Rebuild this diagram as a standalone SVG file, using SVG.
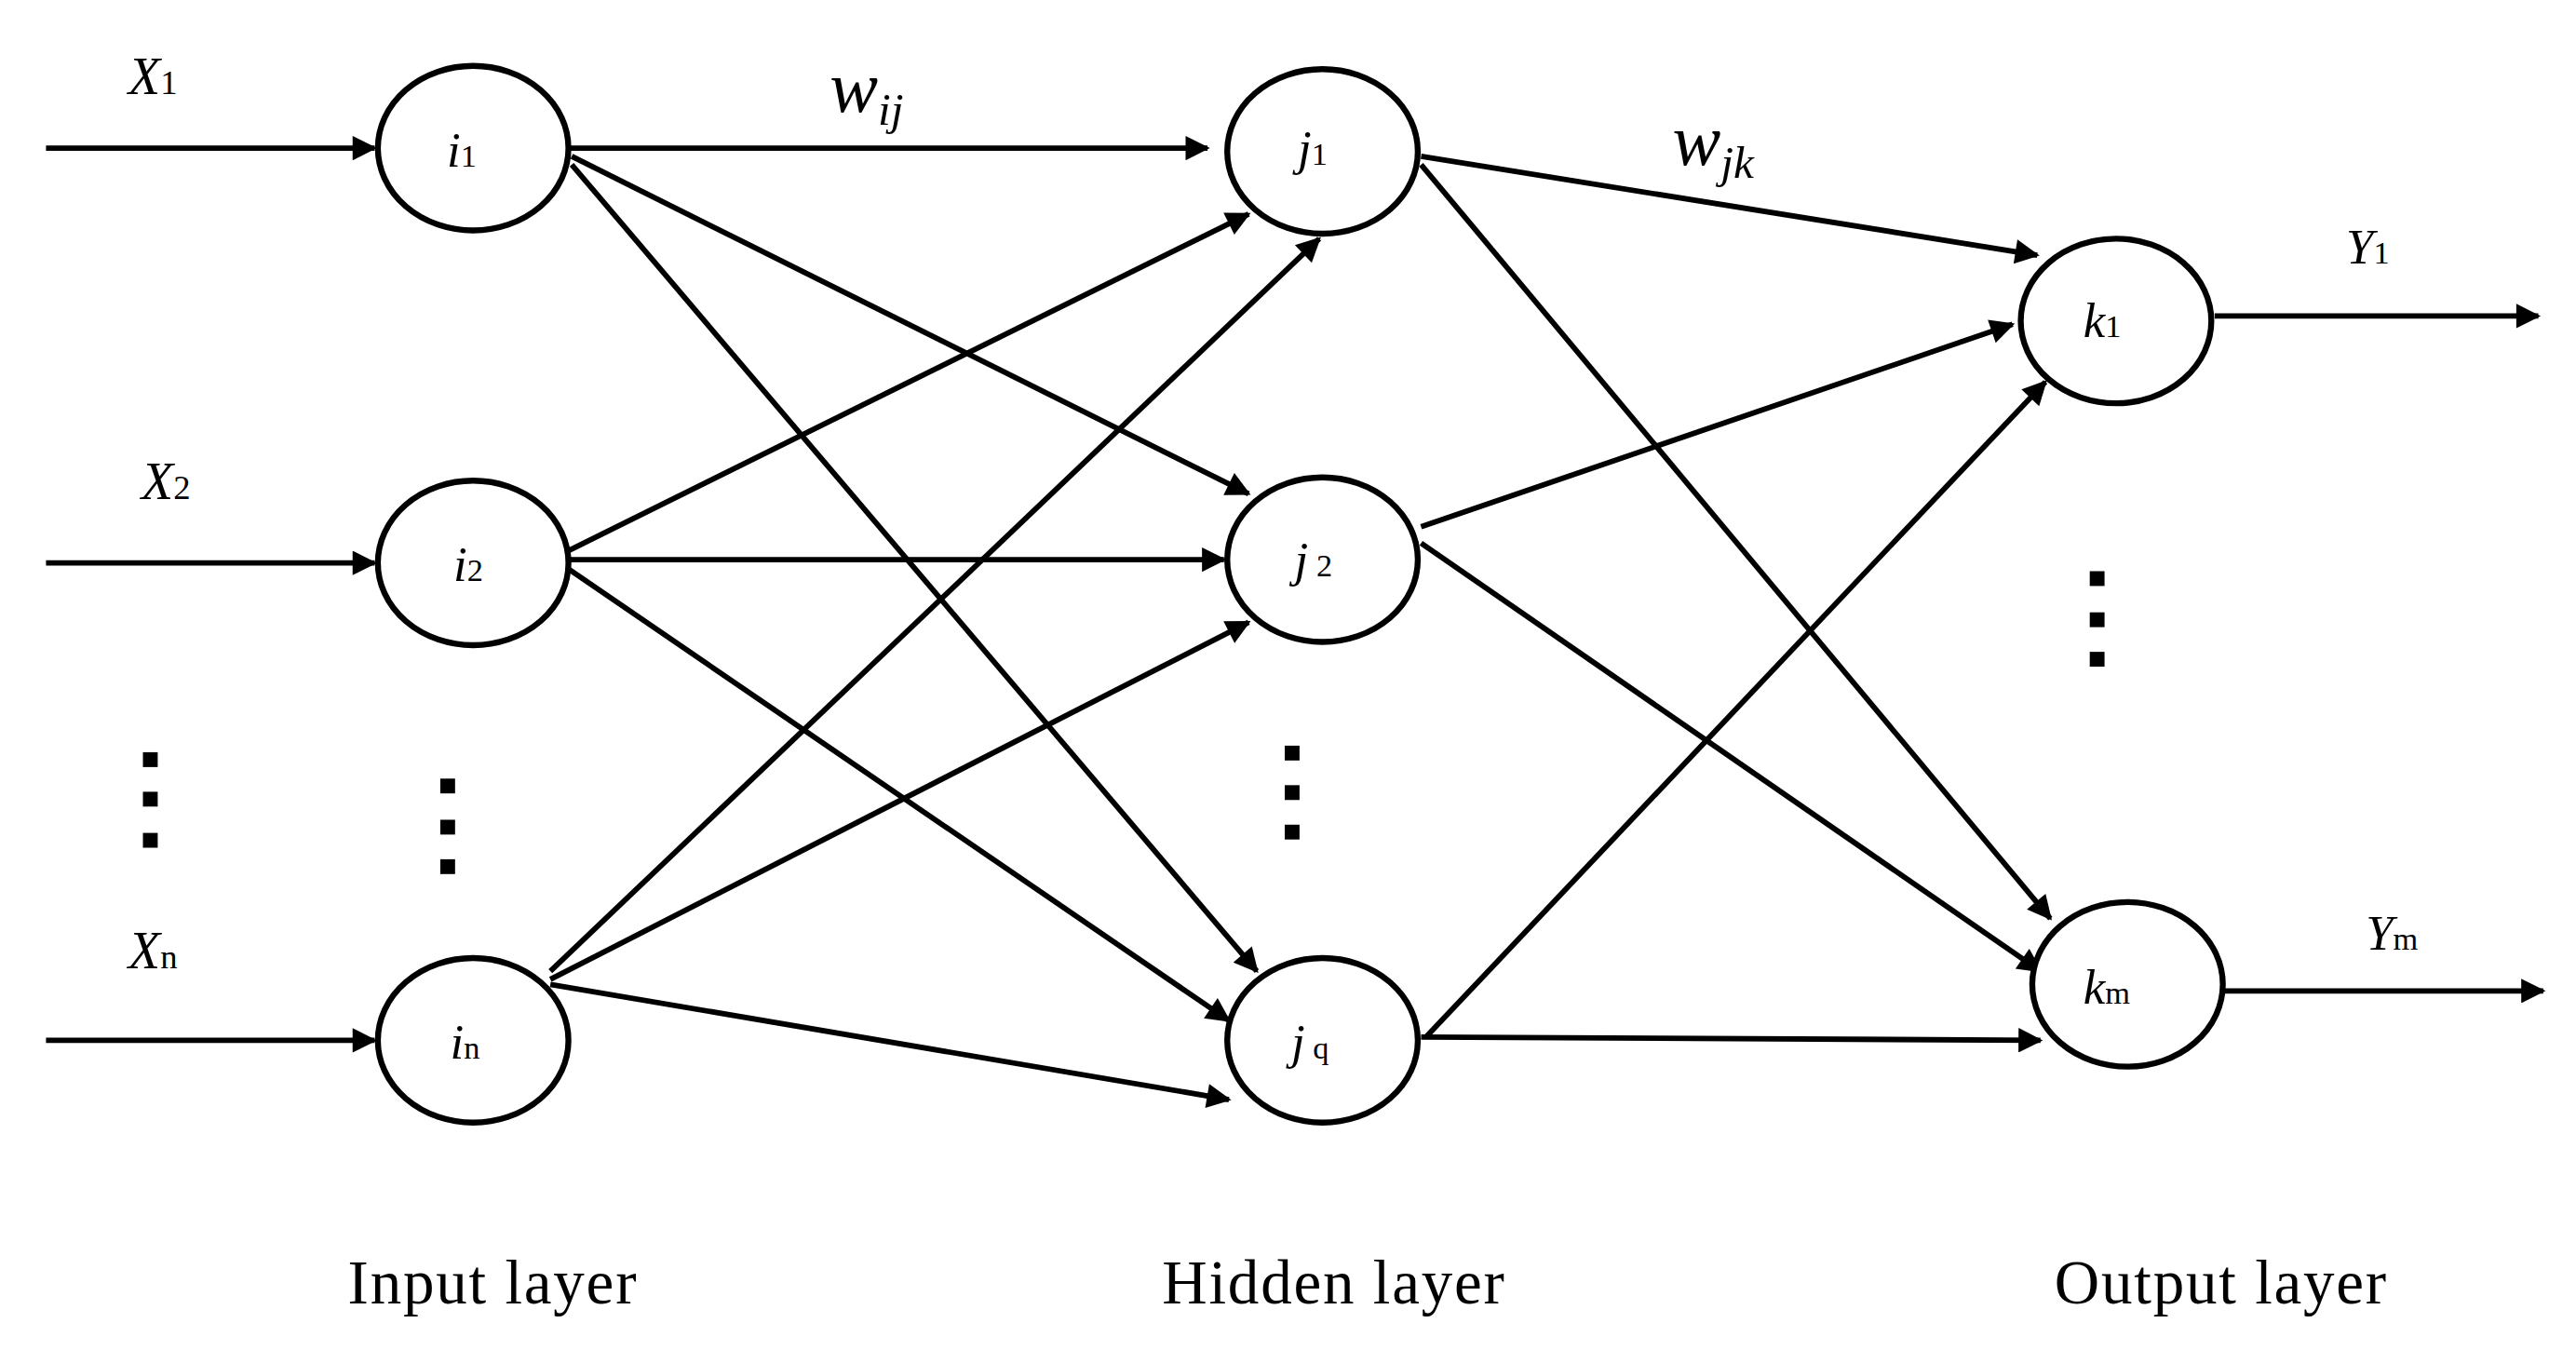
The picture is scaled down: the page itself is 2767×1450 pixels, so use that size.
<svg xmlns="http://www.w3.org/2000/svg" width="2767" height="1450" viewBox="0 0 2767 1450">
<defs>
<marker id="a" viewBox="0 0 10 10" refX="9" refY="5" markerWidth="5" markerHeight="4.5" orient="auto" markerUnits="strokeWidth"><path d="M0,0L10,5L0,10z" fill="#000"/></marker>
<style>
.n{fill:#fff;stroke:#000;stroke-width:3.6}
.e{stroke:#000;stroke-width:3.3;fill:none;marker-end:url(#a)}
.t{font-family:"Liberation Serif",serif;font-style:italic;fill:#000}
.s{font-style:normal;font-size:0.65em}
.l{font-family:"Liberation Serif",serif;font-size:38px;fill:#000;text-anchor:middle;letter-spacing:1px}
.d{fill:#000}
</style>
</defs>
<rect width="2767" height="1450" fill="#fff"/>
<g transform="scale(1.7647 1.768)">
<g id="connectors">
<line class="e" x1="28" y1="90" x2="228" y2="90"/>
<line class="e" x1="28" y1="342" x2="228" y2="342"/>
<line class="e" x1="28" y1="632" x2="228" y2="632"/>
<line class="e" x1="345" y1="90" x2="735" y2="90"/>
<line class="e" x1="348" y1="95" x2="760" y2="300"/>
<line class="e" x1="348" y1="100" x2="765" y2="590"/>
<line class="e" x1="345" y1="335" x2="760" y2="130"/>
<line class="e" x1="345" y1="340" x2="745" y2="340"/>
<line class="e" x1="345" y1="345" x2="748" y2="620"/>
<line class="e" x1="335" y1="590" x2="803" y2="145"/>
<line class="e" x1="335" y1="595" x2="760" y2="378"/>
<line class="e" x1="335" y1="598" x2="748" y2="668"/>
<line class="e" x1="865" y1="95" x2="1240" y2="155"/>
<line class="e" x1="865" y1="100" x2="1248" y2="558"/>
<line class="e" x1="865" y1="320" x2="1225" y2="197"/>
<line class="e" x1="865" y1="330" x2="1242" y2="590"/>
<line class="e" x1="868" y1="630" x2="1245" y2="232"/>
<line class="e" x1="865" y1="630" x2="1242" y2="632"/>
<line class="e" x1="1348" y1="192" x2="1545" y2="192"/>
<line class="e" x1="1352" y1="602" x2="1548" y2="602"/>
</g>
<g id="i1"><ellipse class="n" cx="288" cy="90" rx="58" ry="50"/><text class="t" x="272" y="101" font-size="30">i<tspan class="s">1</tspan></text></g>
<g id="i2"><ellipse class="n" cx="288" cy="342" rx="58" ry="50"/><text class="t" x="276" y="353" font-size="30">i<tspan class="s">2</tspan></text></g>
<g id="in"><ellipse class="n" cx="288" cy="632" rx="58" ry="50"/><text class="t" x="274" y="643" font-size="30">i<tspan class="s">n</tspan></text></g>
<g id="j1"><ellipse class="n" cx="805" cy="92" rx="58" ry="50"/><text class="t" x="790" y="100" font-size="30">j<tspan class="s">1</tspan></text></g>
<g id="j2"><ellipse class="n" cx="805" cy="340" rx="58" ry="50"/><text class="t" x="788" y="350" font-size="30">j<tspan class="s"> 2</tspan></text></g>
<g id="jq"><ellipse class="n" cx="805" cy="632" rx="58" ry="50"/><text class="t" x="786" y="643" font-size="30">j<tspan class="s"> q</tspan></text></g>
<g id="k1"><ellipse class="n" cx="1288" cy="195" rx="58" ry="50"/><text class="t" x="1268" y="205" font-size="30">k<tspan class="s">1</tspan></text></g>
<g id="km"><ellipse class="n" cx="1295" cy="598" rx="58" ry="50"/><text class="t" x="1268" y="610" font-size="30">k<tspan class="s">m</tspan></text></g>
<g id="labels">
<text class="t" x="78" y="57" font-size="32">X<tspan class="s">1</tspan></text>
<text class="t" x="86" y="303" font-size="32">X<tspan class="s">2</tspan></text>
<text class="t" x="78" y="588" font-size="32">X<tspan class="s">n</tspan></text>
<text class="t" x="505" y="68" font-size="44">w<tspan font-size="28" dy="8">ij</tspan></text>
<text class="t" x="1018" y="100" font-size="44">w<tspan font-size="28" dy="8">jk</tspan></text>
<text class="t" x="1428" y="160" font-size="30">Y<tspan class="s" font-style="normal">1</tspan></text>
<text class="t" x="1440" y="577" font-size="30">Y<tspan class="s">m</tspan></text>
<text class="l" x="300" y="792">Input layer</text>
<text class="l" x="812" y="792">Hidden layer</text>
<text class="l" x="1352" y="792">Output layer</text>
</g>
<g id="dots" class="d">
<rect x="87" y="457" width="9" height="9"/><rect x="87" y="481" width="9" height="9"/><rect x="87" y="506" width="9" height="9"/>
<rect x="268" y="473" width="9" height="9"/><rect x="268" y="498" width="9" height="9"/><rect x="268" y="522" width="9" height="9"/>
<rect x="782" y="453" width="9" height="9"/><rect x="782" y="477" width="9" height="9"/><rect x="782" y="501" width="9" height="9"/>
<rect x="1272" y="347" width="9" height="9"/><rect x="1272" y="372" width="9" height="9"/><rect x="1272" y="396" width="9" height="9"/>
</g>
</g>
</svg>
